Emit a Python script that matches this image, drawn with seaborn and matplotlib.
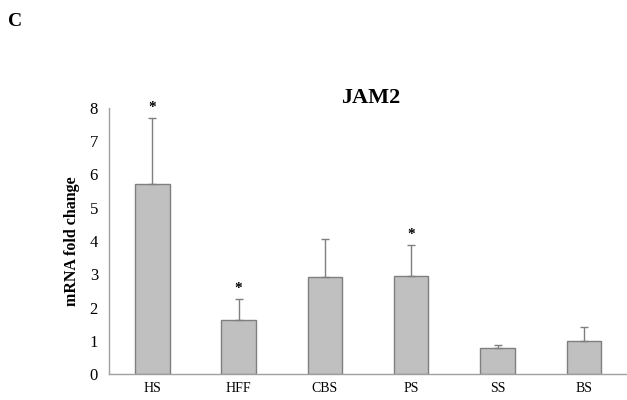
import pandas as pd
import numpy as np
import matplotlib
matplotlib.use("Agg")
import matplotlib.pyplot as plt
import seaborn as sns

groups = ["HS", "HFF", "CBS", "PS", "SS", "BS"]
fold_change = [5.72, 1.62, 2.93, 2.96, 0.78, 0.99]
sd_upper = [1.98, 0.65, 1.12, 0.92, 0.10, 0.42]
significant = [True, True, False, True, False, False]

df = pd.DataFrame({"group": groups, "fold": fold_change, "sd": sd_upper, "sig": significant})

sns.set_style("white")
plt.rcParams["font.family"] = ["Liberation Serif", "DejaVu Serif"]
plt.rcParams["text.color"] = "black"
plt.rcParams["axes.labelcolor"] = "black"
plt.rcParams["xtick.labelcolor"] = "black"
plt.rcParams["ytick.labelcolor"] = "black"

fig = plt.figure(figsize=(6.27, 4.0), dpi=100)
ax = fig.add_axes([0.174, 0.065, 0.826, 0.665])

sns.barplot(data=df, x="group", y="fold", color="#c0c0c0", edgecolor="#7f7f7f",
            linewidth=1.0, width=0.4, saturation=1, errorbar=None, ax=ax)

# only the upper half of the error bar
x = np.arange(len(df))
ax.errorbar(x, df["fold"], yerr=[np.zeros(len(df)), df["sd"]], fmt="none",
            ecolor="#7f7f7f", elinewidth=1.0, capsize=3, capthick=1.0)

for xi, row in zip(x, df.itertuples()):
    if row.sig:
        ax.text(xi, row.fold + row.sd + 0.12, "*", ha="center", va="bottom",
                fontsize=11, fontweight="bold")

ax.set_xlim(-0.5, len(df) - 0.5)
ax.set_ylim(0, 8)
ax.set_yticks(range(0, 9))
ax.set_xticks(np.arange(len(df)))
ax.set_xticklabels(groups, fontsize=10)
ax.tick_params(axis="x", length=0, pad=6)
ax.set_xticks(np.arange(len(df) - 1) + 0.5, minor=True)
ax.tick_params(axis="x", which="minor", length=3, color="#a0a0a0", direction="out")
ax.tick_params(axis="y", labelsize=12, length=4, color="#a0a0a0", direction="out", pad=4)
ax.set_xlabel("")
ax.set_ylabel("mRNA fold change", fontsize=11.5, fontweight="bold", labelpad=7)

for side in ["top", "right"]:
    ax.spines[side].set_visible(False)
for side in ["left", "bottom"]:
    ax.spines[side].set_color("#a0a0a0")
    ax.spines[side].set_linewidth(1.0)

fig.text(0.592, 0.755, "JAM2", ha="center", va="center", fontsize=16, fontweight="bold")
fig.text(0.024, 0.945, "C", ha="center", va="center", fontsize=14, fontweight="bold")

fig.savefig("out.png", dpi=100)
